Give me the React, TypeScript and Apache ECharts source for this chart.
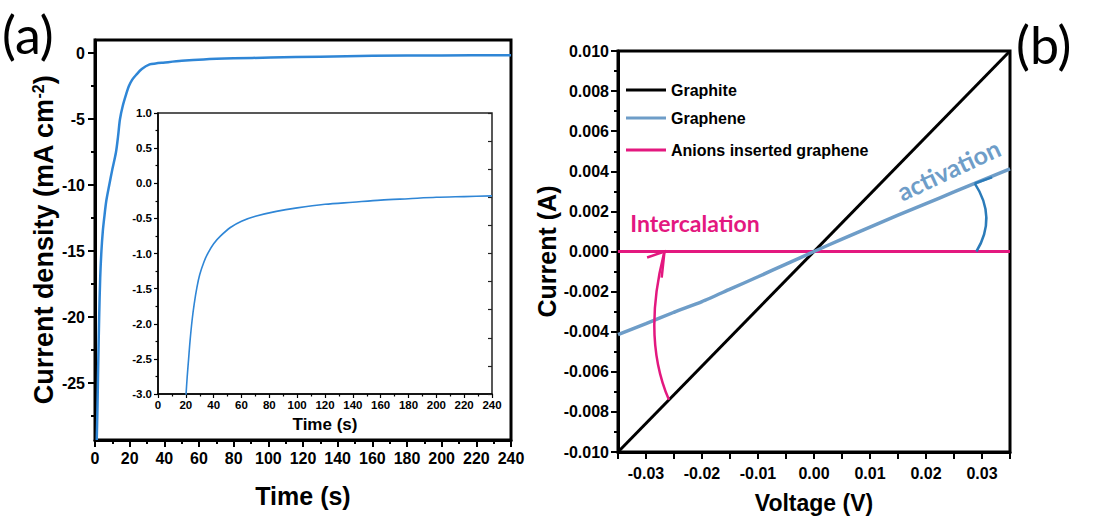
import { useEffect, useRef } from "react";
import * as echarts from "echarts";

// ---------- (a) chronoamperometry ----------
const mainTime = [1.0, 1.4, 1.8, 2.4, 3.0, 3.7, 4.5, 5.3, 6.5, 8.2, 10, 12.1, 13.3, 14.4, 16, 18, 19.5, 21.5, 23.8, 27, 31.5, 35, 39.3, 50, 62.6, 80, 101.5, 130, 160, 200, 240];
const mainCurrent = [-29.3, -27, -24, -20, -17, -15, -13.5, -12.5, -11.2, -10, -8.8, -7.5, -6.3, -5, -4, -3.1, -2.5, -2.0, -1.63, -1.2, -0.85, -0.78, -0.72, -0.58, -0.47, -0.39, -0.33, -0.26, -0.2, -0.17, -0.15];
const mainYTicks = [-25, -20, -15, -10, -5, 0];
const mainYMinorTicks = [-27.5, -22.5, -17.5, -12.5, -7.5, -2.5];

const insetTime = [20, 21, 22, 23, 24.5, 26, 28, 30, 33, 36, 40, 45, 52, 60, 70, 85, 100, 120, 140, 160, 180, 200, 220, 240];
const insetCurrent = [-3.05, -2.75, -2.5, -2.25, -1.95, -1.72, -1.48, -1.3, -1.12, -0.99, -0.86, -0.75, -0.63, -0.54, -0.47, -0.4, -0.35, -0.3, -0.27, -0.24, -0.22, -0.2, -0.19, -0.18];
const insetRightTicks = [0, 1, 2, 3, 4, 5, 6, 7, 8, 9, 10];

// ---------- (b) I-V ----------
const legendNames = ["Graphite", "Graphene", "Anions inserted graphene"];
const graphiteVoltage = [-0.035, 0.035];
const graphiteCurrent = [-0.01, 0.01];
const grapheneVoltage = [-0.035, -0.03, -0.025, -0.02, -0.015, -0.01, -0.005, 0, 0.005, 0.01, 0.015, 0.02, 0.025, 0.03, 0.035];
const grapheneCurrent = [-0.00415, -0.0036, -0.00303, -0.0025, -0.00188, -0.00126, -0.00063, 0, 0.00062, 0.00122, 0.00181, 0.00239, 0.00297, 0.00355, 0.00412];
const anionsVoltage = [-0.035, 0.035];
const anionsCurrent = [0, 0];
const rightXLabels = [-0.03, -0.02, -0.01, 0, 0.01, 0.02, 0.03];
const rightXTicks = [-0.035, -0.03, -0.025, -0.02, -0.015, -0.01, -0.005, 0, 0.005, 0.01, 0.015, 0.02, 0.025, 0.03, 0.035];

// annotations (data coordinates of panel b)
const intercalationArc = [[-0.0259, -0.0074], [-0.0307, -0.0043], [-0.0267, 0]];
const intercalationHead = [[-0.0298, -0.0003], [-0.0267, 0], [-0.0272, -0.0013]];
const activationArc = [[0.029, 0], [0.0327, 0.0017], [0.0287, 0.0034]];
const activationHead = [[0.0287, 0.0034], [0.0318, 0.0037]];
const intercalationLabelAt = [-0.0328, 0.0014];
const activationLabelAt = [0.024, 0.0041];

const SANS = "'Liberation Sans', Arial, sans-serif";
const CAL = "Lato, 'Open Sans', sans-serif";

const BLUE_MAIN = "#2f86d6";
const GRAPHENE = "#6e9dc8";
const PINK = "#e3187f";
const ARROW_BLUE = "#2b7bb9";

const fix = (d: number) => (v: number) => (Math.abs(v) < 1e-12 ? 0 : v).toFixed(d);

export default function App() {
  const ref = useRef<HTMLDivElement>(null);

  useEffect(() => {
    document.body.style.margin = "0";
    if (!ref.current) return;
    const chart = echarts.init(ref.current, undefined, { renderer: "svg" });

    const tick = (len: number, w: number) => ({ show: true, length: len, lineStyle: { color: "#000", width: w } });
    const lbl = (size: number, margin: number) => ({ fontFamily: SANS, fontWeight: "bold" as const, fontSize: size, color: "#000", margin });
    const line = (w: number) => ({ show: true, onZero: false, lineStyle: { color: "#000", width: w } });
    const noLine = { show: false, onZero: false };

    chart.setOption({
      animation: false,
      backgroundColor: "#fff",
      grid: [
        { left: 95, top: 40, width: 416, height: 400, show: true, borderColor: "#000", borderWidth: 3, backgroundColor: "transparent" },
        { left: 158, top: 113, width: 334, height: 281, show: true, borderColor: "#222", borderWidth: 1.5, backgroundColor: "#fff" },
        { left: 618, top: 51, width: 392, height: 402, show: true, borderColor: "#000", borderWidth: 3, backgroundColor: "transparent" },
      ],
      legend: legendNames.map((n, i) => ({
        data: [n],
        left: 621,
        top: [75, 103, 135][i],
        orient: "vertical",
        icon: "rect",
        itemWidth: 40,
        itemHeight: 3,
        selectedMode: false,
        textStyle: { fontFamily: SANS, fontWeight: "bold", fontSize: 16, color: "#000", lineHeight: 20 },
      })),
      xAxis: [
        {
          gridIndex: 0, type: "value", position: "bottom", min: 0, max: 240, interval: 20,
          axisLine: line(3), axisTick: tick(7, 2),
          minorTick: { show: true, splitNumber: 2, length: 4, lineStyle: { color: "#000", width: 2 } },
          axisLabel: lbl(16, 10), splitLine: { show: false },
          name: "Time (s)", nameLocation: "middle", nameGap: 43,
          nameTextStyle: { fontFamily: SANS, fontWeight: "bold", fontSize: 25, color: "#000" },
        },
        {
          gridIndex: 1, type: "value", position: "bottom", min: 0, max: 240, interval: 20,
          axisLine: line(1.5), axisTick: tick(4, 1.2),
          minorTick: { show: true, splitNumber: 2, length: 2.5, lineStyle: { color: "#000", width: 1.2 } },
          axisLabel: lbl(11.5, 5), splitLine: { show: false },
          name: "Time (s)", nameLocation: "middle", nameGap: 18,
          nameTextStyle: { fontFamily: SANS, fontWeight: "bold", fontSize: 17, color: "#000" },
        },
        {
          gridIndex: 2, type: "value", position: "bottom", min: -0.035, max: 0.035,
          axisLine: line(3),
          axisTick: { ...tick(7, 2), customValues: rightXTicks },
          axisLabel: { ...lbl(16, 13), customValues: rightXLabels, formatter: fix(2) },
          splitLine: { show: false },
          name: "Voltage (V)", nameLocation: "middle", nameGap: 39,
          nameTextStyle: { fontFamily: SANS, fontWeight: "bold", fontSize: 23, color: "#000" },
        },
      ],
      yAxis: [
        {
          gridIndex: 0, type: "value", position: "left", min: -29.3, max: 1,
          axisLine: line(3),
          axisTick: { ...tick(7, 2), customValues: mainYTicks },
          axisLabel: { ...lbl(16, 10), customValues: mainYTicks },
          splitLine: { show: false },
          name: "Current density (mA cm{sup|-2})", nameLocation: "middle", nameGap: 36,
          nameTextStyle: {
            fontFamily: SANS, fontWeight: "bold", fontSize: 27, color: "#000",
            rich: { sup: { fontFamily: SANS, fontWeight: "bold", fontSize: 16, color: "#000", verticalAlign: "top" } },
          },
        },
        {
          gridIndex: 0, type: "value", position: "left", min: -29.3, max: 1,
          axisLine: noLine, axisLabel: { show: false }, splitLine: { show: false },
          axisTick: { ...tick(4, 2), customValues: mainYMinorTicks },
        },
        {
          gridIndex: 1, type: "value", position: "left", min: -3, max: 1, interval: 0.5,
          axisLine: line(1.5), axisTick: tick(4, 1.2),
          minorTick: { show: true, splitNumber: 2, length: 2.5, lineStyle: { color: "#000", width: 1.2 } },
          axisLabel: { ...lbl(11.5, 6), formatter: fix(1) }, splitLine: { show: false },
        },
        {
          gridIndex: 1, type: "value", position: "right", offset: 0, min: 0, max: 10,
          axisLine: noLine, axisLabel: { show: false }, splitLine: { show: false },
          axisTick: { show: true, inside: true, length: 4, customValues: insetRightTicks, lineStyle: { color: "#222", width: 1.2 } },
        },
        {
          gridIndex: 2, type: "value", position: "left", min: -0.01, max: 0.01, interval: 0.002,
          axisLine: line(3), axisTick: tick(7, 2),
          minorTick: { show: true, splitNumber: 2, length: 4, lineStyle: { color: "#000", width: 2 } },
          axisLabel: { ...lbl(16, 9), formatter: fix(3) }, splitLine: { show: false },
          name: "Current (A)", nameLocation: "middle", nameGap: 52,
          nameTextStyle: { fontFamily: SANS, fontWeight: "bold", fontSize: 25, color: "#000" },
        },
      ],
      series: [
        {
          name: "main", type: "line", xAxisIndex: 0, yAxisIndex: 0, showSymbol: false, smooth: 0.3,
          lineStyle: { color: BLUE_MAIN, width: 2.5 }, itemStyle: { color: BLUE_MAIN },
          data: mainTime.map((t, i) => [t, mainCurrent[i]]),
        },
        {
          name: "inset", type: "line", xAxisIndex: 1, yAxisIndex: 2, showSymbol: false, smooth: 0.3,
          lineStyle: { color: BLUE_MAIN, width: 1.6 }, itemStyle: { color: BLUE_MAIN },
          data: insetTime.map((t, i) => [t, insetCurrent[i]]),
        },
        {
          name: legendNames[2], type: "line", xAxisIndex: 2, yAxisIndex: 4, showSymbol: false,
          lineStyle: { color: PINK, width: 3 }, itemStyle: { color: PINK },
          data: anionsVoltage.map((v, i) => [v, anionsCurrent[i]]),
        },
        {
          name: legendNames[0], type: "line", xAxisIndex: 2, yAxisIndex: 4, showSymbol: false,
          lineStyle: { color: "#000", width: 3 }, itemStyle: { color: "#000" },
          data: graphiteVoltage.map((v, i) => [v, graphiteCurrent[i]]),
        },
        {
          name: legendNames[1], type: "line", xAxisIndex: 2, yAxisIndex: 4, showSymbol: false, smooth: 0.2,
          lineStyle: { color: GRAPHENE, width: 3.5 }, itemStyle: { color: GRAPHENE },
          data: grapheneVoltage.map((v, i) => [v, grapheneCurrent[i]]),
        },
      ],
    });

    const px = (d: number[]) => chart.convertToPixel({ xAxisIndex: 2, yAxisIndex: 4 }, d) as number[];
    const arc = (pts: number[][], color: string) => {
      const [s, c, e] = pts.map(px);
      return { type: "bezierCurve", z: 100, shape: { x1: s[0], y1: s[1], x2: e[0], y2: e[1], cpx1: c[0], cpy1: c[1] }, style: { stroke: color, lineWidth: 2.5, fill: "none" } };
    };
    const head = (pts: number[][], color: string) => ({
      type: "polyline", z: 100, shape: { points: pts.map(px) }, style: { stroke: color, lineWidth: 2.5, fill: "none" },
    });
    const il = px(intercalationLabelAt);
    const al = px(activationLabelAt);

    chart.setOption({
      graphic: [
        { type: "text", left: 2, top: 8, style: { text: "(a)", fontFamily: CAL, fontSize: 52, fill: "#000" } },
        { type: "text", left: 1016, top: 18, style: { text: "(b)", fontFamily: CAL, fontSize: 52, fill: "#000" } },
        arc(intercalationArc, PINK),
        head(intercalationHead, PINK),
        arc(activationArc, ARROW_BLUE),
        head(activationHead, ARROW_BLUE),
        { type: "text", x: il[0], y: il[1], z: 100, style: { text: "Intercalation", fontFamily: CAL, fontWeight: "bold", fontSize: 23, fill: PINK, align: "left", verticalAlign: "middle" } },
        { type: "text", x: al[0], y: al[1], z: 100, rotation: (25 * Math.PI) / 180, style: { text: "activation", fontFamily: CAL, fontWeight: "bold", fontSize: 25, fill: GRAPHENE, align: "center", verticalAlign: "middle" } },
      ],
    });

    return () => chart.dispose();
  }, []);

  return <div ref={ref} style={{ width: 1099, height: 519 }} />;
}
